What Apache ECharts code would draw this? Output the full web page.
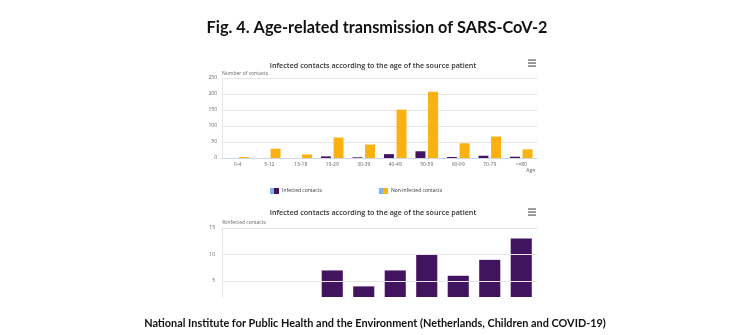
<!DOCTYPE html>
<html>
<head>
<meta charset="utf-8">
<script src="https://cdn.jsdelivr.net/npm/echarts@6/dist/echarts.min.js"></script>
<style>
  html, body { margin: 0; padding: 0; background: #ffffff; }
  #chart { width: 751px; height: 335px; }
</style>
</head>
<body>
<div id="chart"></div>
<script>
// Age groups of the source patient
const ageGroups = ['0-4', '5-12', '13-18', '19-29', '30-39', '40-49', '50-59', '60-69', '70-79', '>=80'];
// Number of contacts per age group
const infectedContacts = [0, 0, 0, 5, 2, 12, 21, 3, 7, 4];
const nonInfectedContacts = [3, 29, 11, 64, 42, 151, 207, 46, 67, 27];
// Share of infected contacts (%) per age group
const pctInfected = [null, null, null, 7, 4, 7, 10, 6, 9, 13];
// Axis ticks
const countTicks = [0, 50, 100, 150, 200, 250];
const pctTicks = [5, 10, 15];

const PURPLE = '#42145f';
const ORANGE = '#fbb211';
const LIGHT_BLUE = '#7cb5ec';
const GRID_LINE = '#e6e6e6';
const AXIS_LINE = '#ccd6eb';
const LABEL = '#666666';
const FONT = '"Open Sans", Lato, sans-serif';

function splitIcon(color) {
  return {
    type: 'linear', x: 0, y: 0, x2: 1, y2: 0,
    colorStops: [
      { offset: 0, color: LIGHT_BLUE }, { offset: 0.5, color: LIGHT_BLUE },
      { offset: 0.5, color: color }, { offset: 1, color: color }
    ]
  };
}

function menuIcon(cx, cy) {
  const bars = [-3, 0, 3].map(dy => ({
    type: 'rect',
    shape: { x: cx - 4, y: cy + dy - 0.6, width: 8, height: 1.3 },
    style: { fill: '#666666' }
  }));
  return { type: 'group', silent: true, children: bars };
}

const chart = echarts.init(document.getElementById('chart'), null, { renderer: 'canvas' });

chart.setOption({
  animation: false,
  backgroundColor: '#ffffff',
  title: [
    {
      text: 'Fig. 4. Age-related transmission of SARS-CoV-2',
      left: 372, top: 15, textAlign: 'center',
      textStyle: { fontFamily: 'Lato, sans-serif', fontWeight: 'bold', fontSize: 16.3, color: '#111111' }
    },
    {
      text: 'Infected contacts according to the age of the source patient',
      left: 368, top: 57, textAlign: 'center',
      textStyle: { fontFamily: FONT, fontWeight: 600, fontSize: 7.2, color: '#333333' }
    },
    {
      text: 'Infected contacts according to the age of the source patient',
      left: 368, top: 204, textAlign: 'center',
      textStyle: { fontFamily: FONT, fontWeight: 600, fontSize: 7.2, color: '#333333' }
    },
    {
      text: 'National Institute for Public Health and the Environment (Netherlands, Children and COVID-19)',
      left: 370, top: 313, textAlign: 'center',
      textStyle: { fontFamily: 'Lato, sans-serif', fontWeight: 'bold', fontSize: 10.9, color: '#111111' }
    }
  ],
  legend: {
    left: 265, top: 183,
    itemWidth: 9, itemHeight: 6, itemGap: 57,
    icon: 'rect',
    textStyle: { fontFamily: FONT, fontSize: 5, color: '#333333', padding: [0, 0, 0, -2] },
    data: [
      { name: 'Infected contacts', itemStyle: { color: splitIcon(PURPLE) } },
      { name: 'Non-infected contacts', itemStyle: { color: splitIcon(ORANGE) } }
    ]
  },
  grid: [
    { left: 222, top: 78, width: 315, height: 80 },
    { left: 222, top: 228, width: 315, height: 69 }
  ],
  xAxis: [
    {
      type: 'category', gridIndex: 0, data: ageGroups,
      name: 'Age', nameLocation: 'end', nameGap: -2,
      nameTextStyle: { fontFamily: FONT, fontSize: 5, color: LABEL, align: 'right', verticalAlign: 'top', padding: [10, 0, 0, 0] },
      axisLine: { lineStyle: { color: AXIS_LINE, width: 1 } },
      axisTick: { length: 4, lineStyle: { color: AXIS_LINE } },
      axisLabel: { fontFamily: FONT, fontSize: 5, color: LABEL, margin: 4, interval: 0 }
    },
    {
      type: 'category', gridIndex: 1, data: ageGroups,
      axisLine: { show: false }, axisTick: { show: false }, axisLabel: { show: false }
    }
  ],
  yAxis: [
    {
      type: 'value', gridIndex: 0, min: countTicks[0], max: countTicks[countTicks.length - 1], interval: 50,
      name: 'Number of contacts', nameLocation: 'end', nameGap: 2,
      nameTextStyle: { fontFamily: FONT, fontSize: 5, color: LABEL, align: 'left' },
      axisLine: { show: true, lineStyle: { color: GRID_LINE } },
      axisTick: { show: false },
      axisLabel: { fontFamily: FONT, fontSize: 5, color: LABEL, margin: 5 },
      splitLine: { lineStyle: { color: GRID_LINE, width: 1 } }
    },
    {
      // lower part of the percentage axis lies below the visible area
      type: 'value', gridIndex: 1, min: 2, max: pctTicks[pctTicks.length - 1],
      name: '%infected contacts', nameLocation: 'end', nameGap: 3,
      nameTextStyle: { fontFamily: FONT, fontSize: 5, color: LABEL, align: 'left' },
      axisLine: { show: true, lineStyle: { color: GRID_LINE } },
      axisTick: { show: false },
      axisLabel: { fontFamily: FONT, fontSize: 5, color: LABEL, margin: 7, customValues: pctTicks },
      splitLine: { show: false }
    }
  ],
  series: [
    {
      name: 'Infected contacts', type: 'bar', xAxisIndex: 0, yAxisIndex: 0,
      data: infectedContacts, barWidth: 10, barGap: '26%',
      itemStyle: { color: PURPLE }
    },
    {
      name: 'Non-infected contacts', type: 'bar', xAxisIndex: 0, yAxisIndex: 0,
      data: nonInfectedContacts, barWidth: 10, barGap: '26%',
      itemStyle: { color: ORANGE }
    },
    {
      name: '% infected', type: 'bar', xAxisIndex: 1, yAxisIndex: 1,
      data: pctInfected, barCategoryGap: '33%', clip: true,
      itemStyle: { color: PURPLE },
      markLine: {
        silent: true, symbol: 'none', label: { show: false },
        lineStyle: { color: GRID_LINE, width: 1, type: 'solid' },
        data: pctTicks.map(v => ({ yAxis: v }))
      },
      z: 3
    }
  ],
  graphic: [menuIcon(532, 63), menuIcon(532, 212)]
});
</script>
</body>
</html>
